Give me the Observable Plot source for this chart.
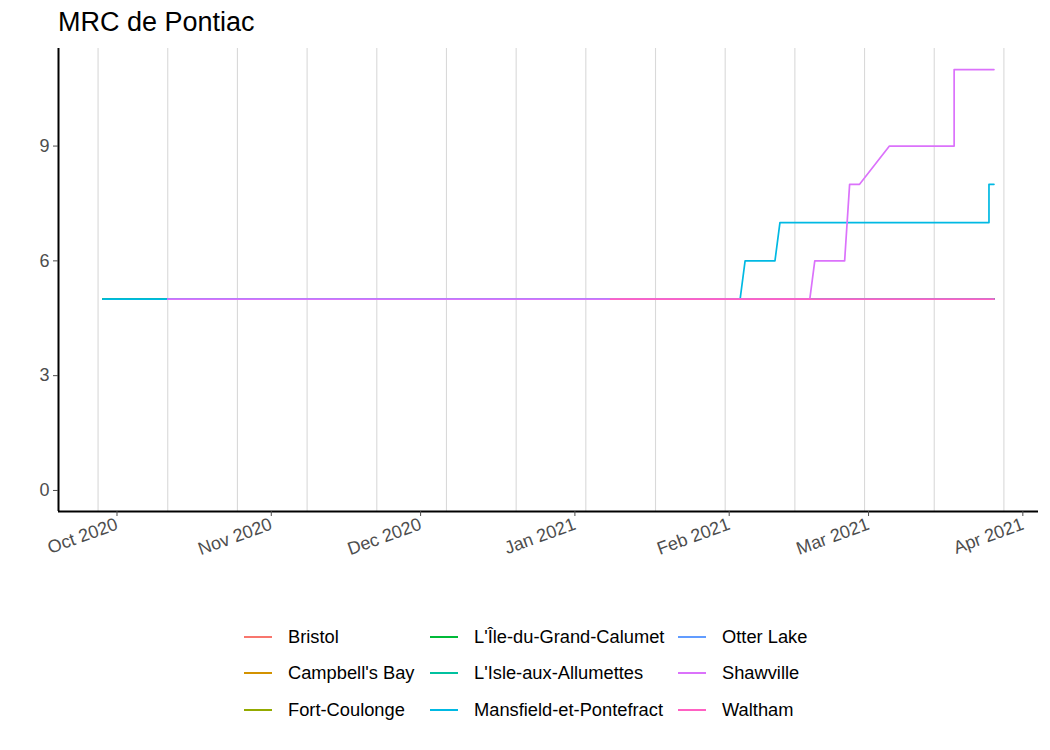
<!DOCTYPE html>
<html>
<head>
<meta charset="utf-8">
<script src="https://cdn.jsdelivr.net/npm/d3@7"></script>
<script src="https://cdn.jsdelivr.net/npm/@observablehq/plot@0.6"></script>
<style>
  body { margin: 0; background: white; font-family: "Liberation Sans", Arial, sans-serif; }
  #page { position: relative; width: 1050px; height: 750px; }
  #title { position: absolute; left: 58px; top: 9px; font-size: 27px; line-height: 1; color: black; }
  #chart { position: absolute; left: 0; top: 0; }
  #legend { position: absolute; left: 0; top: 0; font-size: 18.3px; color: black; }
  #legend .item { position: absolute; height: 36px; display: flex; align-items: center; white-space: nowrap; }
  #legend .key { width: 28px; height: 2px; margin-right: 16px; }
</style>
</head>
<body>
<div id="page">
  <div id="chart"></div>
  <div id="title">MRC de Pontiac</div>
  <div id="legend"></div>
</div>
<script>
// municipalités et couleurs (palette ggplot)
const towns = ['Bristol', "Campbell's Bay", 'Fort-Coulonge', "L'Île-du-Grand-Calumet",
  "L'Isle-aux-Allumettes", 'Mansfield-et-Pontefract', 'Otter Lake', 'Shawville', 'Waltham']
const townColors = ['#F8766D', '#D39200', '#93AA00', '#00BA38', '#00C19F',
  '#00B9E3', '#619CFF', '#DB72FB', '#FF61C3']

// séries (cas cumulés)
const flatDates = ['2020-09-29', '2021-03-27']
const flatCases = [5, 5]
const mansfieldDates = ['2020-09-29', '2021-02-04', '2021-02-05', '2021-02-11', '2021-02-12',
  '2021-03-26', '2021-03-26', '2021-03-27']
const mansfieldCases = [5, 5, 6, 6, 7, 7, 8, 8]
const otterLakeDates = ['2020-10-12', '2021-03-27']
const otterLakeCases = [5, 5]
const shawvilleDates = ['2020-10-12', '2021-02-18', '2021-02-19', '2021-02-25', '2021-02-26',
  '2021-02-28', '2021-03-06', '2021-03-19', '2021-03-19', '2021-03-27']
const shawvilleCases = [5, 5, 6, 6, 8, 8, 9, 9, 11, 11]
const walthamDates = ['2021-01-09', '2021-03-27']
const walthamCases = [5, 5]

const xTicks = ['2020-10-01', '2020-11-01', '2020-12-01', '2021-01-01',
  '2021-02-01', '2021-03-01', '2021-04-01']
const yTicks = [0, 3, 6, 9]
const gridStart = '2020-09-28'

const parse = d3.utcParse('%Y-%m-%d')
const seriesDates = [flatDates, flatDates, flatDates, flatDates, flatDates,
  mansfieldDates, otterLakeDates, shawvilleDates, walthamDates]
const seriesCases = [flatCases, flatCases, flatCases, flatCases, flatCases,
  mansfieldCases, otterLakeCases, shawvilleCases, walthamCases]

const rows = towns.flatMap((town, i) =>
  seriesDates[i].map((d, j) => ({town, date: parse(d), cases: seriesCases[i][j]})))

// expansion de 5 % comme ggplot, y inclut 0
const [d0, d1] = d3.extent(rows, d => d.date)
const pad = (d1 - d0) * 0.05
const xDomain = [new Date(+d0 - pad), new Date(+d1 + pad)]
const yMax = d3.max(rows, d => d.cases)
const yDomain = [-yMax * 0.05, yMax * 1.05]

const gridDates = d3.utcDay.range(parse(gridStart), xDomain[1], 14)

let chart = Plot.plot({
  width: 1050,
  height: 580,
  marginTop: 48,
  marginRight: 12,
  marginBottom: 69,
  marginLeft: 58,
  style: {fontFamily: '"Liberation Sans", Arial, sans-serif', color: '#4d4d4d', background: 'white'},
  x: {type: 'utc', domain: xDomain},
  y: {domain: yDomain},
  color: {domain: towns, range: townColors},
  marks: [
    Plot.ruleX(gridDates, {stroke: '#d9d9d9', strokeWidth: 1.1}),
    Plot.line(rows, {x: 'date', y: 'cases', z: 'town', stroke: 'town', strokeWidth: 1.7}),
    Plot.ruleX([xDomain[0]], {stroke: 'black', strokeWidth: 2}),
    Plot.ruleY([yDomain[0]], {stroke: 'black', strokeWidth: 2}),
    Plot.axisY(yTicks, {tickSize: 5, tickPadding: 4, fontSize: 18, label: null}),
    Plot.axisX(xTicks.map(parse), {tickFormat: d3.utcFormat('%b %Y'), tickRotate: -20,
      tickSize: 5, tickPadding: 7, fontSize: 18, dx: 4, label: null}),
  ],
})

d3.select('#chart').append(() => chart)

// légende avec traits, 3 colonnes
const legendLeft = [244, 430, 678]
const legendTop = [619, 655, 692]
const legend = d3.select('#legend')
towns.forEach((t, i) => {
  const item = legend.append('div').attr('class', 'item')
    .style('left', legendLeft[Math.floor(i / 3)] + 'px')
    .style('top', legendTop[i % 3] + 'px')
  item.append('span').attr('class', 'key').style('background', townColors[i])
  item.append('span').text(t)
})
</script>
</body>
</html>
